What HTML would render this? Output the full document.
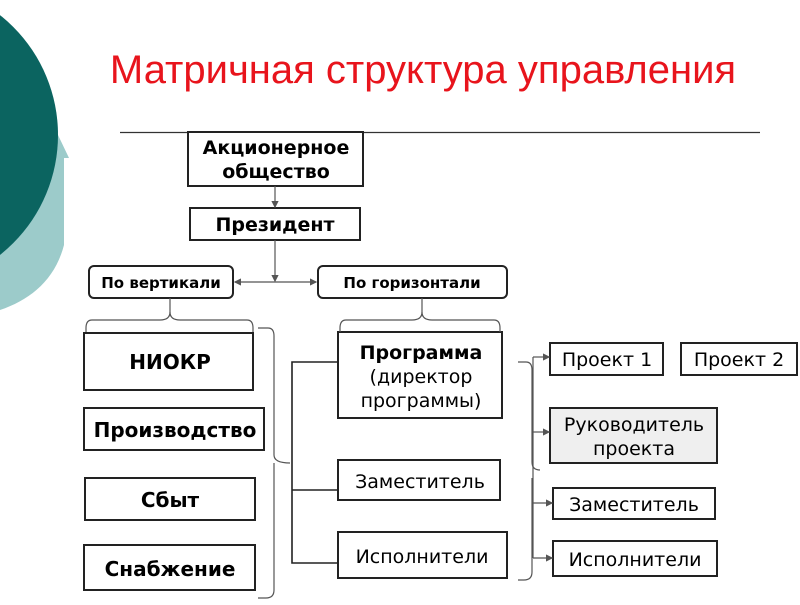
<!DOCTYPE html>
<html><head><meta charset="utf-8"><style>
body{margin:0;width:800px;height:600px;overflow:hidden;background:#fff}
text{font-family:"DejaVu Sans","Liberation Sans",sans-serif;fill:#000}
</style></head><body>
<svg width="800" height="600" xmlns="http://www.w3.org/2000/svg">
<defs><marker id="a" markerWidth="6" markerHeight="6" refX="5" refY="3" orient="auto"><path d="M0,0 L6,3 L0,6z" fill="#555"/></marker></defs>
<path d="M0,120 L58,135 L69,158 L64,158 L64,245 C55,280 30,300 0,310 z" fill="#9ccbca"/>
<circle cx="-95" cy="135" r="153" fill="#0b6460"/>
<text x="423" y="83" font-size="40" style="fill:#e8141c;font-family:'Liberation Sans',sans-serif" text-anchor="middle">Матричная структура управления</text>
<line x1="120" y1="132.5" x2="760" y2="132.5" stroke="#333" stroke-width="1.2"/>
<g fill="none" stroke="#222" stroke-width="2">
<rect x="188" y="132" width="175" height="54" fill="#fff"/>
<rect x="190" y="208" width="170" height="32"/>
<rect x="89" y="266" width="144" height="32" rx="5"/>
<rect x="318" y="266" width="189" height="32" rx="5"/>
<rect x="84" y="333" width="169" height="57"/>
<rect x="84" y="408" width="180" height="42"/>
<rect x="85" y="478" width="170" height="42"/>
<rect x="84" y="545" width="171" height="45"/>
<rect x="338" y="332" width="164" height="86"/>
<rect x="338" y="460" width="162" height="40"/>
<rect x="338" y="532" width="169" height="46"/>
<rect x="550" y="343" width="113" height="32"/>
<rect x="681" y="343" width="116" height="32"/>
<rect x="550" y="408" width="167" height="55" fill="#efefef"/>
<rect x="553" y="488" width="162" height="31"/>
<rect x="553" y="541" width="164" height="35"/>
</g>
<g fill="none" stroke="#555" stroke-width="1.2">
<line x1="275" y1="186" x2="275" y2="207" marker-end="url(#a)"/>
<line x1="275" y1="240" x2="275" y2="281" marker-end="url(#a)"/>
<line x1="275" y1="282" x2="235" y2="282" marker-end="url(#a)"/>
<line x1="275" y1="282" x2="316" y2="282" marker-end="url(#a)"/>
<path d="M170,298 V312 Q170,320 160,320 H92 Q86,320 86,328 V332"/>
<path d="M170,312 Q170,320 180,320 H247 Q253,320 253,328 V332"/>
<path d="M422,298 V312 Q422,320 412,320 H346 Q340,320 340,328 V332"/>
<path d="M422,312 Q422,320 432,320 H494 Q500,320 500,328 V332"/>
<path d="M258,328 H268 Q274,328 274,336 V455 Q274,463 290,463 M274,463 Q274,471 274,480 V590 Q274,598 266,598 H258"/>
<path d="M518,362 H526 Q532,362 532,370 V462 Q532,470 540,470 M532,478 V572 Q532,580 524,580 H518"/>
<line x1="533" y1="357" x2="533" y2="558"/>
<line x1="533" y1="357" x2="549" y2="357" marker-end="url(#a)"/>
<line x1="533" y1="432" x2="549" y2="432" marker-end="url(#a)"/>
<line x1="533" y1="503" x2="552" y2="503" marker-end="url(#a)"/>
<line x1="533" y1="558" x2="552" y2="558" marker-end="url(#a)"/>
</g>
<g fill="none" stroke="#222" stroke-width="1.6">
<path d="M338,362 H292 V563 H338 M292,490 H338"/>
</g>
<g font-weight="bold" text-anchor="middle">
<text x="276" y="154" font-size="19" font-weight="bold">Акционерное</text>
<text x="276" y="178" font-size="19" font-weight="bold">общество</text>
<text x="275" y="231" font-size="19" font-weight="bold">Президент</text>
<text x="161" y="288" font-size="15" font-weight="bold">По вертикали</text>
<text x="412" y="288" font-size="15" font-weight="bold">По горизонтали</text>
<text x="170" y="369" font-size="20" font-weight="bold">НИОКР</text>
<text x="175" y="437" font-size="20" font-weight="bold">Производство</text>
<text x="170" y="507" font-size="20" font-weight="bold">Сбыт</text>
<text x="170" y="576" font-size="20" font-weight="bold">Снабжение</text>
<text x="421" y="359" font-size="19" font-weight="bold">Программа</text>
</g>
<g text-anchor="middle" font-size="19">
<text x="421" y="383">(директор</text>
<text x="421" y="407">программы)</text>
<text x="420" y="488">Заместитель</text>
<text x="422" y="563">Исполнители</text>
<text x="607" y="366">Проект 1</text>
<text x="739" y="366">Проект 2</text>
<text x="634" y="431">Руководитель</text>
<text x="634" y="455">проекта</text>
<text x="634" y="511">Заместитель</text>
<text x="635" y="566">Исполнители</text>
</g>
</svg>
</body></html>
